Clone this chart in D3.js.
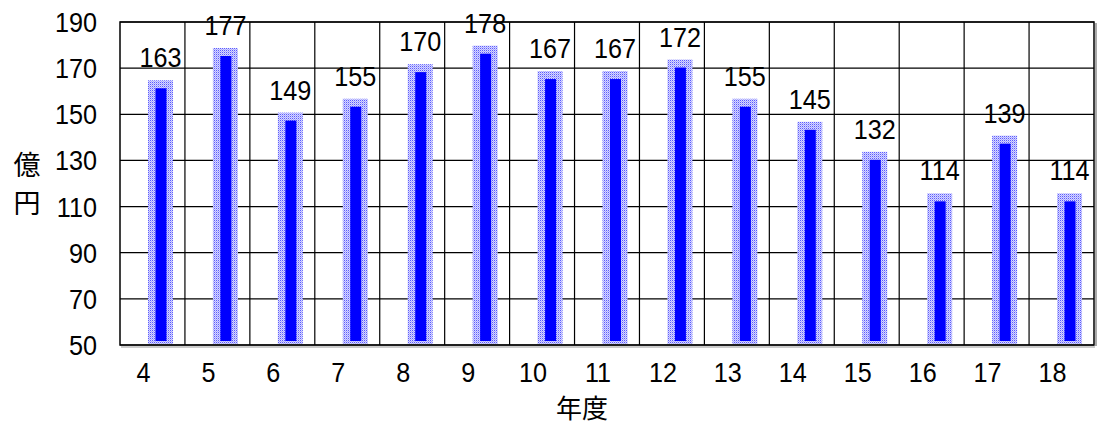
<!DOCTYPE html>
<html><head><meta charset="utf-8">
<script src="https://cdn.jsdelivr.net/npm/d3@7"></script>
<style>body{margin:0;background:#fff}svg{display:block}</style>
</head><body><svg id="c" width="1100" height="425"></svg>
<script>
const categories = ["4","5","6","7","8","9","10","11","12","13","14","15","16","17","18"];
const values = [163,177,149,155,170,178,167,167,172,155,145,132,114,139,114];
const yTicks = [50,70,90,110,130,150,170,190];
const xTitle = "年度";
const yTitle = ["億","円"];

const svg = d3.select("#c");
const L = 120, R = 1094, T = 22, B = 345;
const x = d3.scaleBand().domain(categories).range([L, R]);
const y = d3.scaleLinear().domain([50,190]).range([B, T]);
const font = "'Liberation Sans', Arial, sans-serif";
const FS = 28, SX = 0.9;

const defs = svg.append("defs");
const pat = defs.append("pattern").attr("id","dots").attr("patternUnits","userSpaceOnUse")
  .attr("width",2).attr("height",2);
pat.append("rect").attr("width",2).attr("height",2).attr("fill","#d8d8ff");
pat.append("rect").attr("x",0).attr("y",0).attr("width",1).attr("height",1).attr("fill","#5a5aff");
pat.append("rect").attr("x",1).attr("y",1).attr("width",1).attr("height",1).attr("fill","#a8a8ff");

// horizontal grid
svg.append("g").selectAll("line").data(yTicks).join("line")
  .attr("x1",L).attr("x2",R).attr("y1",d=>y(d)).attr("y2",d=>y(d))
  .attr("stroke","#000").attr("stroke-width",1.2);
// vertical grid
svg.append("g").selectAll("line").data(categories.slice(1)).join("line")
  .attr("x1",d=>x(d)).attr("x2",d=>x(d)).attr("y1",T).attr("y2",B)
  .attr("stroke","#000").attr("stroke-width",1.2);
// frame
svg.append("rect").attr("x",R+1).attr("y",T+1).attr("width",2).attr("height",B-T).attr("fill","#aaa");
svg.append("rect").attr("x",L+1).attr("y",B+1).attr("width",R-L).attr("height",2).attr("fill","#ccc");
svg.append("rect").attr("x",L).attr("y",T).attr("width",R-L).attr("height",B-T)
  .attr("fill","none").attr("stroke","#000").attr("stroke-width",1.5);

const cx = d => x(d) + x.bandwidth()/2 + 8;
const data = categories.map((c,i)=>({c, v: values[i]}));

const g = svg.append("g");
g.selectAll("rect.o").data(data).join("rect").attr("class","o")
  .attr("x",d=>cx(d.c)-12.5).attr("width",25)
  .attr("y",d=>y(d.v)-4).attr("height",d=>B-1-(y(d.v)-4))
  .attr("fill","url(#dots)");
g.selectAll("rect.i").data(data).join("rect").attr("class","i")
  .attr("x",d=>cx(d.c)-5).attr("width",11)
  .attr("y",d=>y(d.v)+4).attr("height",d=>B-4-(y(d.v)+4))
  .attr("fill","#0000ff");

function label(sel, anchor){
  sel.attr("text-anchor",anchor).attr("font-family",font).attr("font-size",FS);
}
// value labels
g.selectAll("text.v").data(data).join("text").attr("class","v")
  .attr("transform",d=>`translate(${cx(d.c)},${y(d.v)-17}) scale(${SX},1)`)
  .call(label,"middle").text(d=>d.v);

// y tick labels
svg.append("g").selectAll("text").data(yTicks).join("text")
  .attr("transform",d=>`translate(97,${y(d)+10}) scale(${SX},1)`)
  .call(label,"end").text(d=>d);

// x tick labels
svg.append("g").selectAll("text").data(categories).join("text")
  .attr("transform",d=>`translate(${x(d)+x.bandwidth()/2-9},382) scale(${SX},1)`)
  .call(label,"middle").text(d=>d);

// titles
svg.append("text").attr("x",582).attr("y",418).attr("text-anchor","middle")
  .attr("font-family","'Noto Sans CJK JP', sans-serif").attr("font-size",26).text(xTitle);
svg.append("g").selectAll("text").data(yTitle).join("text")
  .attr("x",27).attr("y",(d,i)=>175+i*38).attr("text-anchor","middle")
  .attr("font-family","'Noto Sans CJK JP', sans-serif").attr("font-size",27).text(d=>d);
</script></body></html>
